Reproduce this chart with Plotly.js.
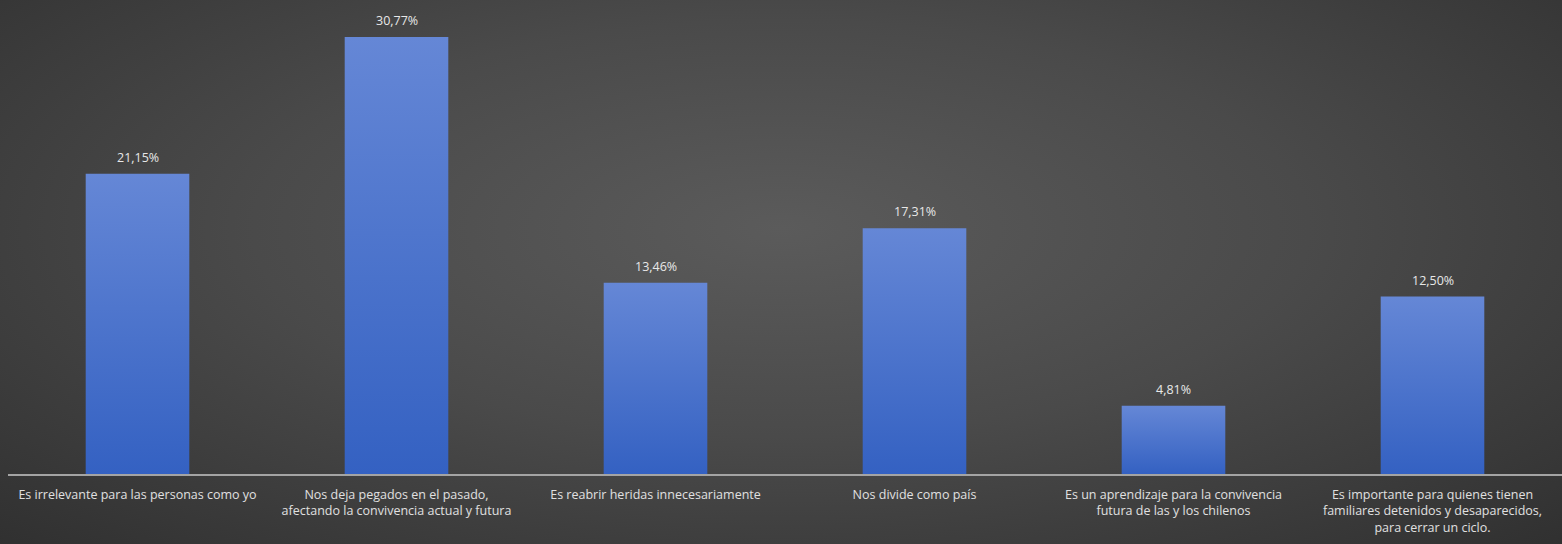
<!DOCTYPE html>
<html>
<head>
<meta charset="utf-8">
<script src="https://cdn.plot.ly/plotly-3.0.1.min.js"></script>
<style>
html,body{margin:0;padding:0;width:1562px;height:544px;overflow:hidden;}
body{background:radial-gradient(ellipse 75% 85% at 50% 42%, #5b5b5b 0%, #4a4a4a 45%, #2e2e2e 100%);}
#chart{width:1562px;height:544px;}
</style>
</head>
<body>
<div id="chart"></div>
<script>
const categories = [
  "Es irrelevante para las personas como yo",
  "Nos deja pegados en el pasado,<br>afectando la convivencia actual y futura",
  "Es reabrir heridas innecesariamente",
  "Nos divide como país",
  "Es un aprendizaje para la convivencia<br>futura de las y los chilenos",
  "Es importante para quienes tienen<br>familiares detenidos y desaparecidos,<br>para cerrar un ciclo."
];
const values = [21.15, 30.77, 13.46, 17.31, 4.81, 12.50];
const valueLabels = ["21,15%", "30,77%", "13,46%", "17,31%", "4,81%", "12,50%"];

const FONT = 'Open Sans, Roboto, sans-serif';

const trace = {
  type: 'bar',
  x: categories,
  y: values,
  marker: {color: '#4a72cc', line: {width: 0}},
  hoverinfo: 'none'
};

const annotations = categories.map((c, i) => ({
  x: c, y: values[i], xref: 'x', yref: 'y',
  text: valueLabels[i], showarrow: false,
  yanchor: 'bottom', yshift: 6,
  font: {family: FONT, size: 12.5, color: '#e8e8e8'}
}));

const layout = {
  width: 1562, height: 544,
  margin: {l: 8, r: 0, t: 0, b: 70},
  paper_bgcolor: 'rgba(0,0,0,0)',
  plot_bgcolor: 'rgba(0,0,0,0)',
  bargap: 0.6,
  showlegend: false,
  font: {family: FONT, color: '#e0e0e0'},
  annotations: annotations,
  xaxis: {
    type: 'category',
    showline: true, linecolor: '#a4a4a4', linewidth: 2,
    showgrid: false, zeroline: false, ticks: '',
    tickangle: 0,
    ticklabelstandoff: 8,
    tickfont: {family: FONT, size: 12.5, color: '#e0e0e0'}
  },
  yaxis: {
    range: [0, 33.38], visible: false, showgrid: false, zeroline: false, fixedrange: true
  }
};

Plotly.newPlot('chart', [trace], layout, {displayModeBar: false, staticPlot: true}).then(() => {
  const svg = document.querySelector('#chart svg.main-svg');
  const ns = 'http://www.w3.org/2000/svg';
  let defs = svg.querySelector('defs');
  if (!defs) { defs = document.createElementNS(ns, 'defs'); svg.insertBefore(defs, svg.firstChild); }
  const g = document.createElementNS(ns, 'linearGradient');
  g.setAttribute('id', 'barGrad');
  g.setAttribute('x1', '0'); g.setAttribute('y1', '0');
  g.setAttribute('x2', '0'); g.setAttribute('y2', '1');
  [['0', '#6587d6'], ['1', '#3461c2']].forEach(([o, c]) => {
    const s = document.createElementNS(ns, 'stop');
    s.setAttribute('offset', o); s.setAttribute('stop-color', c);
    g.appendChild(s);
  });
  defs.appendChild(g);
  document.querySelectorAll('#chart .bars .point path').forEach(p => {
    p.style.fill = 'url(#barGrad)';
  });
});
</script>
</body>
</html>
